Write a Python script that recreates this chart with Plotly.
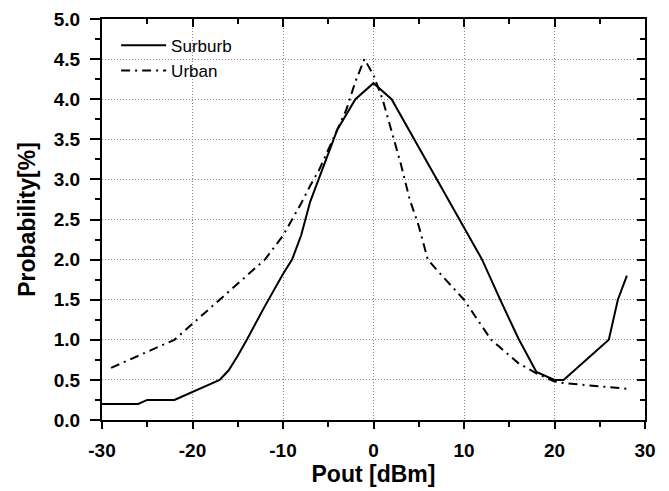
import plotly.graph_objects as go

# Surburb (solid)
sub_x = [-30, -26, -25, -22, -17, -16, -15, -14, -12, -10, -9, -8, -7, -6, -4, -2, 0, 2, 12, 14, 16, 18, 20, 21, 24, 26, 27, 28]
sub_y = [0.2, 0.2, 0.25, 0.25, 0.5, 0.62, 0.8, 1.0, 1.42, 1.82, 2.0, 2.3, 2.72, 3.02, 3.62, 4.0, 4.2, 4.0, 2.0, 1.5, 1.02, 0.6, 0.5, 0.5, 0.8, 1.0, 1.5, 1.8]

# Urban (dash-dot)
urb_x = [-29, -22, -20, -17, -12, -10, -9, -8, -7, -6, -3, -2, -1, 0, 1, 2, 3, 4, 5, 6, 7, 10, 13, 16, 18, 20, 21, 28]
urb_y = [0.65, 1.0, 1.2, 1.5, 2.0, 2.3, 2.5, 2.7, 2.92, 3.12, 3.87, 4.22, 4.5, 4.3, 4.0, 3.6, 3.2, 2.75, 2.42, 2.0, 1.87, 1.5, 1.0, 0.71, 0.58, 0.48, 0.46, 0.39]

x_ticks = [-30, -20, -10, 0, 10, 20, 30]
x_labels = ["-30", "-20", "-10", "0", "10", "20", "30"]
y_ticks = [0.0, 0.5, 1.0, 1.5, 2.0, 2.5, 3.0, 3.5, 4.0, 4.5, 5.0]
y_labels = ["0.0", "0.5", "1.0", "1.5", "2.0", "2.5", "3.0", "3.5", "4.0", "4.5", "5.0"]

FONT = "Arial"

fig = go.Figure()
fig.add_trace(go.Scatter(x=sub_x, y=sub_y, mode="lines", name="Surburb",
                         line=dict(color="black", width=2)))
fig.add_trace(go.Scatter(x=urb_x, y=urb_y, mode="lines", name="Urban",
                         line=dict(color="black", width=2, dash="9px,5px,2px,5px")))
# invisible trace to carry the mirrored top/right axes
fig.add_trace(go.Scatter(x=[x_ticks[0]], y=[y_ticks[0]], xaxis="x2", yaxis="y2",
                         mode="markers", marker=dict(opacity=0), showlegend=False,
                         hoverinfo="skip"))

axis_common = dict(showline=True, linecolor="black", linewidth=2,
                   tickcolor="black", tickwidth=2, zeroline=False, automargin=False)

fig.update_layout(
    width=669, height=491,
    margin=dict(l=102, r=24, t=19, b=71),
    paper_bgcolor="white", plot_bgcolor="white",
    font=dict(family=FONT, color="black"),
    xaxis=dict(range=[-30, 30], tickvals=x_ticks, ticktext=x_labels,
               ticks="outside", ticklen=7, ticklabelstandoff=5,
               minor=dict(ticks="outside", ticklen=5, dtick=5, tickcolor="black", tickwidth=2, showgrid=False),
               showgrid=True, gridcolor="#888888", griddash="1px,2px", gridwidth=1,
               tickfont=dict(size=19, family=FONT, weight="bold", color="black"),
               title=dict(text="<b>Pout [dBm]</b>", font=dict(size=23, family=FONT), standoff=0),
               **axis_common),
    yaxis=dict(range=[0, 5], tickvals=y_ticks, ticktext=y_labels,
               ticks="outside", ticklen=10, ticklabelstandoff=6,
               minor=dict(ticks="outside", ticklen=5, dtick=0.25, tickcolor="black", tickwidth=2, showgrid=False),
               showgrid=True, gridcolor="#888888", griddash="1px,2px", gridwidth=1,
               tickfont=dict(size=19, family=FONT, weight="bold", color="black"),
               title=dict(text="<b>Probability[%]</b>", font=dict(size=23, family=FONT), standoff=12),
               **axis_common),
    xaxis2=dict(range=[-30, 30], overlaying="x", side="top", tickvals=x_ticks, ticks="inside",
                ticklen=8, showticklabels=False, showgrid=False,
                minor=dict(ticks="inside", ticklen=5, dtick=5, tickcolor="black", tickwidth=2),
                **axis_common),
    yaxis2=dict(range=[0, 5], overlaying="y", side="right", tickvals=y_ticks, ticks="inside",
                ticklen=8, showticklabels=False, showgrid=False,
                minor=dict(ticks="inside", ticklen=5, dtick=0.25, tickcolor="black", tickwidth=2),
                **axis_common),
    legend=dict(x=0.026, y=0.978, xanchor="left", yanchor="top", bgcolor="rgba(0,0,0,0)",
                font=dict(size=17, family=FONT), itemwidth=45, tracegroupgap=0),
    showlegend=True,
)

fig.write_html("out.html")
